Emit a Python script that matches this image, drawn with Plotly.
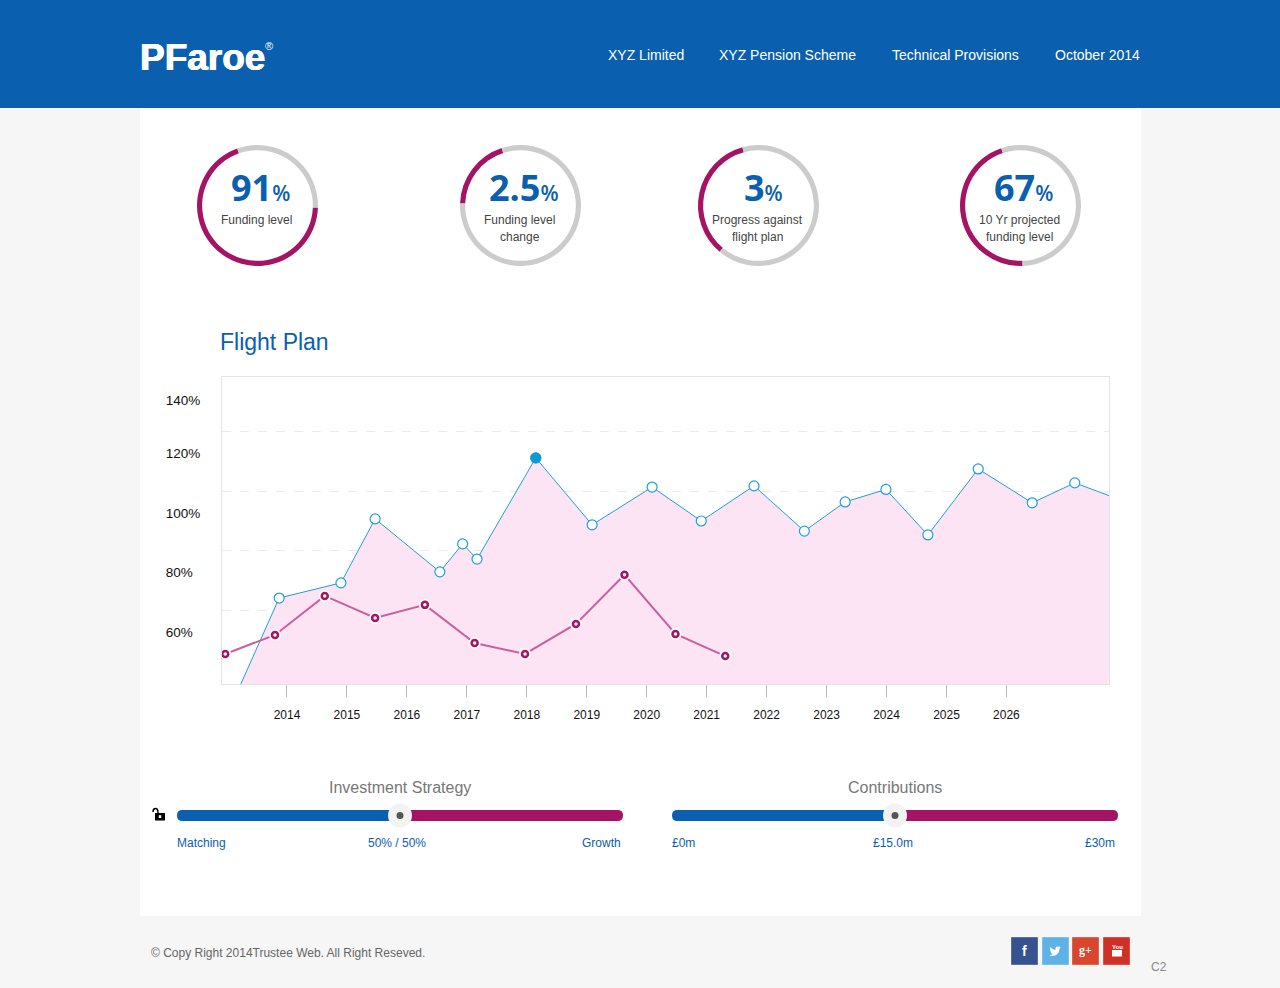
import plotly.graph_objects as go

W = 1280
H = 988
BLUE = "#0a60ae"
MAGENTA = "#a51464"
SANS = "Liberation Sans"

# flight plan, x is year position on the axis
plan_x = [2013.23, 2013.87, 2014.90, 2015.47, 2016.55, 2016.93, 2017.17, 2018.15, 2019.09, 2020.09,
          2020.91, 2021.79, 2022.63, 2023.31, 2023.99, 2024.69, 2025.53, 2026.43, 2027.14, 2027.73]
plan_y = [42.5, 71.4, 76.5, 98.0, 80.2, 89.6, 84.5, 118.5, 96.0, 108.7,
          97.3, 109.1, 93.9, 103.7, 107.9, 92.6, 114.8, 103.4, 110.1, 105.7]
actual_x = [2012.97, 2013.80, 2014.63, 2015.47, 2016.30, 2017.13, 2017.97, 2018.82, 2019.63, 2020.48, 2021.31]
actual_y = [52.6, 59.0, 72.1, 64.7, 69.1, 56.3, 52.6, 62.7, 79.2, 59.3, 51.9]
highlight_x = [2018.15]
highlight_y = [118.5]

year_ticks = list(range(2014, 2027))
pct_ticks = [60, 80, 100, 120, 138]
pct_labels = ["60%\u00a0\u00a0", "80%\u00a0\u00a0", "100%", "120%", "140%"]
grid_lines = [67.1, 87.3, 107.1, 127.3]

# gauges
kpi_values = ["91", "2.5", "3", "67"]
kpi_labels = [["Funding level"], ["Funding level", "change"], ["Progress against", "flight plan"],
              ["10 Yr projected", "funding level"]]
kpi_arc = [69, 19.4, 34.6, 45.4]
kpi_start = [92, 272, 220, 178]
kpi_cx = [257.5, 520.5, 758.5, 1020.5]
kpi_num_cx = [260, 524, 763.5, 1023.5]

nav_items = ["XYZ Limited", "XYZ Pension Scheme", "Technical Provisions", "October 2014"]
nav_x = [608, 719, 891.5, 1054.5]

slider_titles = ["Investment Strategy", "Contributions"]
slider_share = [0.5, 0.5]
slider_left = [177, 672]
slider_labels = [["Matching", "50% / 50%", "Growth"], ["£0m", "£15.0m", "£30m"]]
slider_mid_x = [397, 893]
slider_right_x = [620.5, 1115]

social_x = [1011, 1042, 1072, 1103]
social_colors = ["#36528f", "#5fb2e5", "#d8462d", "#cf3126"]


def fx(p):
    return p / W


def fy(p):
    return 1 - p / H


def text(x, y, s, size=12, color="#444", anchor="center", family=SANS, shadow=None):
    font = dict(size=size, color=color, family=family)
    if shadow:
        font["shadow"] = shadow
    return dict(x=fx(x), y=fy(y), xref="paper", yref="paper", text=s, showarrow=False, xanchor=anchor,
                yanchor="middle", font=font, align="center", borderpad=0, borderwidth=0)


def box(x0, y0, x1, y1, color, kind="rect", line=None):
    return dict(type=kind, xref="paper", yref="paper", x0=fx(x0), x1=fx(x1), y0=fy(y1), y1=fy(y0),
                fillcolor=color, line=line or dict(width=0), layer="below")


def path(d, color, line=None, layer="above"):
    # d is a list of (command, x, y, ...) in pixels
    parts = []
    for seg in d:
        nums = seg[1:]
        pts = [f"{fx(nums[i]):.5f},{fy(nums[i + 1]):.5f}" for i in range(0, len(nums), 2)]
        parts.append(seg[0] + " ".join(pts))
    return dict(type="path", xref="paper", yref="paper", path=" ".join(parts) + " Z" if color else " ".join(parts),
                fillcolor=color or "rgba(0,0,0,0)", line=line or dict(width=0), layer=layer)


fig = go.Figure()

# gauges
for i in range(4):
    fig.add_trace(go.Pie(
        values=[kpi_arc[i], 100 - kpi_arc[i]],
        marker=dict(colors=[MAGENTA, "#cccccc"], line=dict(width=0)),
        hole=0.915, sort=False, direction="clockwise", rotation=kpi_start[i], textinfo="none",
        showlegend=False, hoverinfo="skip",
        domain=dict(x=[fx(kpi_cx[i] - 60.5), fx(kpi_cx[i] + 60.5)], y=[fy(266), fy(145)]),
    ))

# flight plan
fig.add_trace(go.Scatter(x=plan_x, y=plan_y, mode="lines", fill="tozeroy", fillcolor="#fde4f4",
                         line=dict(color="#1e9fd8", width=1), showlegend=False))
fig.add_trace(go.Scatter(x=plan_x[1:-1], y=plan_y[1:-1], mode="markers", showlegend=False,
                         marker=dict(size=10, color="white", line=dict(color="#1e9fd8", width=1.2))))
fig.add_trace(go.Scatter(x=highlight_x, y=highlight_y, mode="markers", showlegend=False,
                         marker=dict(size=11, color="#0d9bd8", line=dict(color="white", width=0))))
fig.add_trace(go.Scatter(x=actual_x, y=actual_y, mode="lines", showlegend=False,
                         line=dict(color="#c9609e", width=2), cliponaxis=False))
fig.add_trace(go.Scatter(x=actual_x, y=actual_y, mode="markers", showlegend=False, cliponaxis=False,
                         marker=dict(size=12, color="white")))
fig.add_trace(go.Scatter(x=actual_x, y=actual_y, mode="markers", showlegend=False, cliponaxis=False,
                         marker=dict(size=6, color="white", line=dict(color=MAGENTA, width=2.5))))

shapes = [
    box(140, 108, 1141, 916, "white"),
    box(0, 0, W, 108, BLUE),
]

annotations = [
    text(140, 57, "<b>PFaroe</b>", size=37, color="white", anchor="left",
         shadow="0.5px 0 0 white, -0.5px 0 0 white"),
    text(268.5, 46, "®", size=11, color="white"),
    text(220, 342, "Flight Plan", size=23, color=BLUE, anchor="left"),
    text(151, 953, "© Copy Right 2014Trustee Web. All Right Reseved.", size=12, color="#666", anchor="left"),
    text(1151, 967, "C2", size=12, color="#888", anchor="left"),
]

for label, x in zip(nav_items, nav_x):
    annotations.append(text(x, 55, label, size=14, color="white", anchor="left"))

for i in range(4):
    annotations.append(text(kpi_num_cx[i], 187.5,
                            f'<b>{kpi_values[i]}</b><span style="font-size:21px;font-weight:600">%</span>',
                            size=36, color=BLUE, family="Open Sans"))
    for k, line in enumerate(kpi_labels[i]):
        annotations.append(text(kpi_cx[i] - 1, 220 + 17 * k, line))

# sliders
for i in range(2):
    x0 = slider_left[i]
    x1 = x0 + 446
    knob = x0 + 446 * slider_share[i]
    top, bottom, r = 810, 821, 5.5
    shapes.append(path([("M", knob, top), ("L", x0 + r, top), ("Q", x0, top, x0, top + r),
                        ("Q", x0, bottom, x0 + r, bottom), ("L", knob, bottom)], BLUE))
    shapes.append(path([("M", knob, top), ("L", x1 - r, top), ("Q", x1, top, x1, top + r),
                        ("Q", x1, bottom, x1 - r, bottom), ("L", knob, bottom)], MAGENTA))
    for s in (box(knob - 12, 803.5, knob + 12, 827.5, "#f2f2f2", kind="circle"),
              box(knob - 3.5, 812, knob + 3.5, 819, "#555555", kind="circle")):
        s["layer"] = "above"
        shapes.append(s)
    annotations.append(text(knob - 0.5, 787, slider_titles[i], size=16, color="#777"))
    labels = slider_labels[i]
    annotations.append(text(x0, 843, labels[0], color=BLUE, anchor="left"))
    annotations.append(text(slider_mid_x[i], 843, labels[1], color=BLUE))
    annotations.append(text(slider_right_x[i], 843, labels[2], color=BLUE, anchor="right"))

# open padlock next to the first slider
shapes.append(box(155, 813, 165, 820.5, "black"))
shapes.append(box(158.8, 815.2, 161.2, 818, "white"))
shapes[-1]["layer"] = "above"
shapes[-2]["layer"] = "above"
shapes.append(path([("M", 153, 812), ("Q", 153, 808.5, 155.5, 808.5), ("Q", 158, 808.5, 158, 813)], None,
                   line=dict(color="black", width=1.5)))

# social buttons
for x, c in zip(social_x, social_colors):
    shapes.append(box(x, 937, x + 27, 965, c, line=dict(color="rgba(255,255,255,0.35)", width=1)))
annotations.append(text(1024.5, 951, "<b>f</b>", size=14, color="white"))
annotations.append(text(1085.5, 950, "<b>g+</b>", size=12, color="white", family="Liberation Serif"))
# bird
shapes.append(path([("M", 1050, 947), ("Q", 1053, 950, 1055.5, 950), ("Q", 1055, 946.5, 1058, 946.5),
                    ("L", 1060.5, 947), ("L", 1059.5, 949), ("Q", 1059, 955, 1053, 956),
                    ("Q", 1050.5, 956, 1049.5, 955), ("Q", 1052, 955, 1052.5, 954),
                    ("Q", 1050, 952.5, 1050, 947)], "white"))
# tube
shapes.append(box(1112, 950, 1122, 956.5, "white"))
shapes[-1]["layer"] = "above"
annotations.append(text(1117, 946.5, "<b>You</b>", size=6, color="white"))

fig.update_layout(
    width=W, height=H, autosize=False, margin=dict(l=0, r=0, t=0, b=0),
    paper_bgcolor="#f6f6f6", plot_bgcolor="rgba(0,0,0,0)",
    shapes=shapes, annotations=annotations, hovermode=False,
    font=dict(family=SANS),
    xaxis=dict(domain=[fx(222), fx(1109)], range=[2012.916, 2027.711], tickvals=year_ticks,
               ticks="outside", ticklen=12, tickcolor="#bbbbbb", tickwidth=1, showgrid=False, zeroline=False,
               showline=True, linecolor="#e4e4e4", linewidth=1, mirror=True,
               ticklabelstandoff=8, tickfont=dict(size=12, color="#111", family=SANS)),
    yaxis=dict(domain=[fy(684), fy(377)], range=[42.5, 145.7], tickvals=pct_ticks, ticktext=pct_labels,
               ticks="", showgrid=False, zeroline=False,
               showline=True, linecolor="#e4e4e4", linewidth=1, mirror=True,
               ticklabelstandoff=18, tickfont=dict(size=13.5, color="#111", family=SANS),
               minor=dict(tickvals=grid_lines, showgrid=True, gridcolor="#ebebeb", griddash="dash", gridwidth=1,
                          ticks="")),
)

fig.write_html("out.html", config=dict(displayModeBar=False),
               post_script="document.body.style.margin='0';document.body.style.overflow='hidden';")
